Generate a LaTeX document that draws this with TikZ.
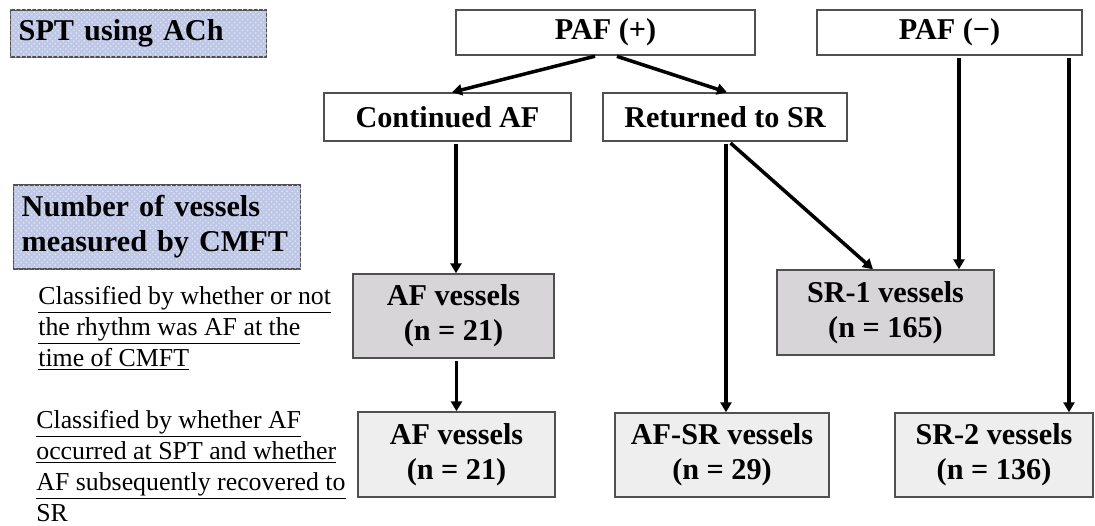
\documentclass[tikz,border=0pt]{standalone}
\usepackage{fontspec}
\setmainfont{Liberation Serif}
\usetikzlibrary{arrows.meta,patterns}

\definecolor{labelblue}{RGB}{190,200,230}
\definecolor{darkfill}{RGB}{216,213,216}
\definecolor{lightfill}{RGB}{238,238,238}
\definecolor{edgegray}{RGB}{80,80,80}

\tikzset{
    box/.style={draw=edgegray, line width=0.8pt, fill=white, align=center,
        font=\fontsize{17.2}{20}\selectfont\bfseries},
    label/.style={draw=edgegray, line width=0.8pt, fill=labelblue,
        postaction={pattern=crosshatch dots, pattern color=white!55!labelblue},
        align=left, inner xsep=1.6mm, anchor=west,
        font=\fontsize{17.2}{20}\selectfont\bfseries},
    note/.style={align=left, inner sep=0pt, anchor=north west,
        font=\fontsize{14.7}{17.6}\selectfont},
    arr/.style={line width=2pt, shorten <=0.4mm, -{Triangle[length=2mm,width=2.2mm]}}
}

\begin{document}
\begin{tikzpicture}[x=0.2mm, y=-0.2mm]
    \useasboundingbox (0,0) rectangle (1095,526);

    % Labels on the left
    \node[label, text width=48mm, minimum height=9.4mm] (spt) at (10,33.5) {SPT using ACh};
    \node[label, text width=54.2mm, minimum height=16.8mm] (cmft) at (13,227) {Number of vessels\\measured by CMFT};

    \node[note] (firstnote) at (38,286) {\underline{Classified by whether or not}\\
        \underline{the rhythm was AF at the}\\\underline{time of CMFT}};
    \node[note] (secondnote) at (36,410) {\underline{Classified by whether AF}\\
        \underline{occurred at SPT and whether}\\\underline{AF subsequently recovered to}\\SR};

    % Patient groups
    \node[box, minimum width=59.8mm, minimum height=9mm] (pafp) at (605.5,32.5) {PAF (+)};
    \node[box, minimum width=53mm, minimum height=9mm] (pafm) at (949.5,32.5) {PAF (\textminus)};
    \node[box, minimum width=49.4mm, minimum height=9.6mm] (contaf) at (447.5,117) {Continued AF};
    \node[box, minimum width=48.8mm, minimum height=9.6mm] (retsr) at (725,117) {Returned to SR};

    % Vessels at the time of CMFT
    \node[box, fill=darkfill, minimum width=40.2mm, minimum height=16.8mm] (afone) at (453.5,316) {AF vessels\\(n = 21)};
    \node[box, fill=darkfill, minimum width=43.4mm, minimum height=17mm] (srone) at (885.5,312.5) {SR-1 vessels\\(n = 165)};

    % Vessels by rhythm course
    \node[box, fill=lightfill, minimum width=39.4mm, minimum height=17mm] (aftwo) at (456.5,454.5) {AF vessels\\(n = 21)};
    \node[box, fill=lightfill, minimum width=42.8mm, minimum height=16.8mm] (afsr) at (722,455) {AF-SR vessels\\(n = 29)};
    \node[box, fill=lightfill, minimum width=39.6mm, minimum height=16.8mm] (srtwo) at (994,455) {SR-2 vessels\\(n = 136)};

    % Arrows
    \draw[arr] ([xshift=-1.7mm]pafp.south) -- ([xshift=0.9mm]contaf.north);
    \draw[arr] ([xshift=1.9mm]pafp.south) -- ([xshift=0.4mm]retsr.north);
    \draw[arr] ([xshift=0.5mm]afone.north |- contaf.south) -- ([xshift=0.5mm]afone.north);
    \draw[arr] (afone.south -| aftwo.north) -- (aftwo.north);
    \draw[arr] ([xshift=0.2mm]retsr.south) -- ([xshift=0.2mm]retsr.south |- afsr.north);
    \draw[arr] ([xshift=0.8mm]retsr.south) -- ([xshift=-2.5mm]srone.north);
    \draw[arr] ([xshift=1.9mm]pafm.south) -- ([xshift=1.9mm]pafm.south |- srone.north);
    \draw[arr] ([xshift=23.9mm]pafm.south) -- ([xshift=23.9mm]pafm.south |- srtwo.north);
\end{tikzpicture}
\end{document}
